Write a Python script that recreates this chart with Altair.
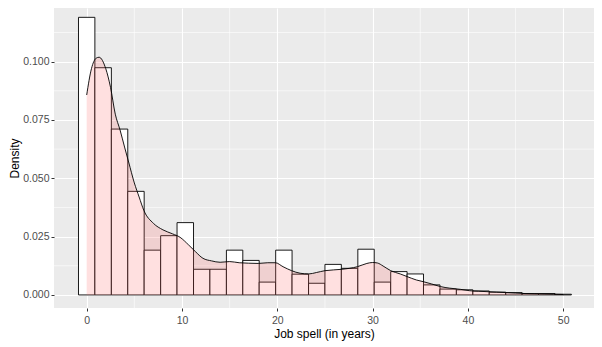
import altair as alt
import pandas as pd

# Histogram bins (ggplot default 30 bins over 0..50) and their densities
bin_edges = [-0.86, 0.86, 2.59, 4.31, 6.03, 7.76, 9.48, 11.21, 12.93, 14.66,
             16.38, 18.10, 19.83, 21.55, 23.28, 25.00, 26.72, 28.45, 30.17,
             31.90, 33.62, 35.34, 37.07, 38.79, 40.52, 42.24, 43.97, 45.69,
             47.41, 49.14, 50.86]
bin_density = [0.1190, 0.0974, 0.0711, 0.0444, 0.0192, 0.0254, 0.0310, 0.0110,
               0.0110, 0.0192, 0.0148, 0.0055, 0.0192, 0.0089, 0.0050, 0.0131,
               0.0114, 0.0196, 0.0055, 0.0100, 0.0090, 0.0043, 0.0025, 0.0022,
               0.0017, 0.0012, 0.0010, 0.0006, 0.0006, 0.0003]

# Kernel density curve
dens_x = [0, 0.5, 1.0, 1.3, 2.0, 2.5, 3.0, 3.5, 4.0, 4.4, 5.0, 5.5, 6.0, 7.0,
          8.0, 9.0, 9.8, 10.7, 11.4, 12.2, 13.1, 14.0, 15.0, 16.0, 17.0, 18.0,
          19.0, 19.8, 20.6, 21.5, 22.4, 23.3, 24.1, 25.0, 26.8, 28.4, 29.4,
          30.0, 30.5, 31.1, 31.9, 32.9, 33.6, 34.6, 35.3, 36.2, 37.1, 38.1,
          39.2, 40.2, 41.1, 42.0, 43.0, 44.0, 45.0, 46.0, 47.0, 48.0, 49.0, 50.0]
dens_y = [0.0857, 0.0970, 0.1015, 0.1019, 0.0970, 0.0890, 0.0775, 0.0707,
          0.0630, 0.0570, 0.0480, 0.0420, 0.0362, 0.0307, 0.0279, 0.0262,
          0.0247, 0.0214, 0.0186, 0.0157, 0.0146, 0.0140, 0.0143, 0.0138,
          0.0136, 0.0135, 0.0138, 0.0138, 0.0121, 0.0104, 0.0093, 0.0090,
          0.0096, 0.0104, 0.0110, 0.0121, 0.0135, 0.0139, 0.0137, 0.0124,
          0.0104, 0.0090, 0.0079, 0.0064, 0.0057, 0.0047, 0.0036, 0.0029,
          0.0024, 0.0018, 0.0016, 0.0014, 0.0012, 0.0010, 0.0008, 0.0006,
          0.0005, 0.0004, 0.0003, 0.0002]

x_major = [0, 10, 20, 30, 40, 50]
x_minor = [5, 15, 25, 35, 45]
y_major = [0.0, 0.025, 0.05, 0.075, 0.1]
y_minor = [0.0125, 0.0375, 0.0625, 0.0875, 0.1125]

hist_df = pd.DataFrame({"x0": bin_edges[:-1], "x1": bin_edges[1:], "density": bin_density})
dens_df = pd.DataFrame({"x": dens_x, "y": dens_y})
xminor_df = pd.DataFrame({"x": x_minor})
yminor_df = pd.DataFrame({"y": y_minor})

xscale = alt.Scale(domain=[-3.43, 53.23], nice=False, zero=False)
yscale = alt.Scale(domain=[-0.0056, 0.1230], nice=False, zero=False)
xaxis = alt.Axis(title="Job spell (in years)", values=x_major, format="d", grid=True,
                 labelPadding=4, titlePadding=3)
yaxis = alt.Axis(title="Density", values=y_major, format=".3f", grid=True,
                 labelPadding=2, titlePadding=1)

minor_x = alt.Chart(xminor_df).mark_rule(color="white", strokeWidth=0.6).encode(
    x=alt.X("x:Q", scale=xscale, axis=xaxis)
)
minor_y = alt.Chart(yminor_df).mark_rule(color="white", strokeWidth=0.6).encode(
    y=alt.Y("y:Q", scale=yscale, axis=yaxis)
)

hist = alt.Chart(hist_df).mark_rect(fill="white", stroke="black", strokeWidth=0.9).encode(
    x=alt.X("x0:Q", scale=xscale, axis=xaxis),
    x2="x1:Q",
    y=alt.Y("density:Q", scale=yscale, axis=yaxis),
    y2=alt.datum(0),
)

area = alt.Chart(dens_df).mark_area(color="#FF6666", fillOpacity=0.2, interpolate="monotone").encode(
    x=alt.X("x:Q", scale=xscale, axis=xaxis),
    y=alt.Y("y:Q", scale=yscale, axis=yaxis),
    y2=alt.datum(0),
)

line = alt.Chart(dens_df).mark_line(color="black", strokeWidth=0.9, interpolate="monotone").encode(
    x=alt.X("x:Q", scale=xscale, axis=xaxis),
    y=alt.Y("y:Q", scale=yscale, axis=yaxis),
)

chart = alt.layer(minor_x, minor_y, hist, area, line).properties(
    width=540,
    height=300,
    padding={"left": 46, "top": 0, "right": 0, "bottom": 35},
    autosize=alt.AutoSizeParams(type="none"),
).configure_view(
    fill="#EBEBEB", stroke=None
).configure_axis(
    labelFont="Liberation Sans",
    labelFontSize=10.5,
    labelColor="#4D4D4D",
    titleFont="Liberation Sans",
    titleFontSize=12,
    titleFontWeight="normal",
    titleColor="black",
    tickColor="#333333",
    tickSize=3,
    tickWidth=1,
    domain=False,
    gridColor="white",
    gridWidth=1.1,
)

chart.save("out.html", embed_options={"renderer": "svg", "actions": False})
